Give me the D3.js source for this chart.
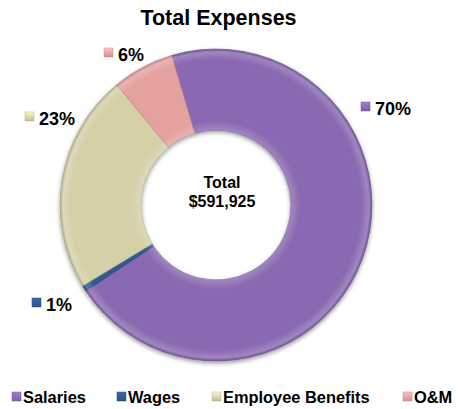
<!DOCTYPE html>
<html>
<head>
<meta charset="utf-8">
<script src="https://cdn.jsdelivr.net/npm/d3@7"></script>
<style>
  html, body { margin: 0; padding: 0; background: #fff; }
  svg { display: block; font-family: "Liberation Sans", Arial, sans-serif; }
</style>
</head>
<body>
<svg id="chart" width="458" height="409"></svg>
<script>
// ---- data ----
const categories = ["Salaries", "Wages", "Employee Benefits", "O&M"];
const shares = [70.3, 0.6, 22.7, 6.4];           // percent of total
const colors = ["#8969b1", "#2f5b8e", "#d5d0a8", "#e3a2a0"];
const titleText = "Total Expenses";
const centerLines = ["Total", "$591,925"];

// ---- layout ----
const W = 458, H = 409;
const cx = 216, cy = 205, R = 156, Ri = 75;
const startDeg = -16.5;
const labelPos = [ [361, 102], [32, 298], [25, 112], [104, 48] ]; // marker top-left per slice

const svg = d3.select("#chart");
const defs = svg.append("defs");

const f = defs.append("filter").attr("id", "shadow")
  .attr("x", "-20%").attr("y", "-20%").attr("width", "140%").attr("height", "140%");
f.append("feDropShadow").attr("dx", 0).attr("dy", 2).attr("stdDeviation", 2.2)
  .attr("flood-color", "#000").attr("flood-opacity", 0.4);

colors.forEach((c, i) => {
  const g = defs.append("linearGradient").attr("id", "mk" + i)
    .attr("x1", 0).attr("y1", 0).attr("x2", 0).attr("y2", 1);
  g.append("stop").attr("offset", "0%").attr("stop-color", d3.color(c).brighter(0.5));
  g.append("stop").attr("offset", "100%").attr("stop-color", d3.color(c).darker(0.3));
});

const ringGrad = defs.append("radialGradient").attr("id", "bevel")
  .attr("gradientUnits", "userSpaceOnUse").attr("cx", 0).attr("cy", 0).attr("r", R);
ringGrad.append("stop").attr("offset", (Ri / R * 100) + "%").attr("stop-color", "#fff").attr("stop-opacity", 0.2);
ringGrad.append("stop").attr("offset", (Ri / R * 100 + 6) + "%").attr("stop-color", "#fff").attr("stop-opacity", 0);
ringGrad.append("stop").attr("offset", "93%").attr("stop-color", "#fff").attr("stop-opacity", 0);
ringGrad.append("stop").attr("offset", "98%").attr("stop-color", "#fff").attr("stop-opacity", 0.2);
ringGrad.append("stop").attr("offset", "100%").attr("stop-color", "#000").attr("stop-opacity", 0.12);

// title
svg.append("text").attr("x", 218.5).attr("y", 25)
  .attr("text-anchor", "middle").attr("font-size", 21.5).attr("font-weight", "bold")
  .attr("fill", "#000").text(titleText);

// donut
const toRad = d => d * Math.PI / 180;
const pie = d3.pie().sort(null).value(d => d)
  .startAngle(toRad(startDeg)).endAngle(toRad(startDeg) + 2 * Math.PI);
const arcs = pie(shares);
const arc = d3.arc().innerRadius(Ri).outerRadius(R);

const g = svg.append("g").attr("transform", `translate(${cx},${cy})`);
const sg = g.append("g").attr("filter", "url(#shadow)");
sg.selectAll("path.slice").data(arcs).enter().append("path")
  .attr("class", "slice")
  .attr("d", arc)
  .attr("fill", (d, i) => colors[i])
  .attr("stroke", (d, i) => d3.color(colors[i]).darker(0.6))
  .attr("stroke-width", 0.6);
g.selectAll("path.bev").data(arcs).enter().append("path")
  .attr("class", "bev")
  .attr("d", arc)
  .attr("fill", "url(#bevel)");

// center text
svg.append("text").attr("x", 222).attr("y", 188)
  .attr("text-anchor", "middle").attr("font-size", 16).attr("font-weight", "bold")
  .text(centerLines[0]);
svg.append("text").attr("x", 222).attr("y", 207)
  .attr("text-anchor", "middle").attr("font-size", 16).attr("font-weight", "bold")
  .text(centerLines[1]);

// data labels
const total = d3.sum(shares);
arcs.forEach((d, i) => {
  const [mx, my] = labelPos[i];
  svg.append("rect").attr("x", mx).attr("y", my).attr("width", 9).attr("height", 9)
    .attr("fill", `url(#mk${i})`).attr("stroke", d3.color(colors[i]).darker(0.4)).attr("stroke-width", 0.5);
  svg.append("text").attr("x", mx + 14).attr("y", my + 13)
    .attr("font-size", 18).attr("font-weight", "bold")
    .text(Math.max(1, Math.round(d.value / total * 100)) + "%");
});

// legend
const legendX = [12, 117, 212, 403];
const lg = svg.append("g");
categories.forEach((c, i) => {
  lg.append("rect").attr("x", legendX[i]).attr("y", 392).attr("width", 9).attr("height", 9)
    .attr("fill", `url(#mk${i})`).attr("stroke", d3.color(colors[i]).darker(0.4)).attr("stroke-width", 0.5);
  lg.append("text").attr("x", legendX[i] + 11).attr("y", 403)
    .attr("font-size", 16.4).attr("font-weight", "bold").text(c);
});
</script>
</body>
</html>
